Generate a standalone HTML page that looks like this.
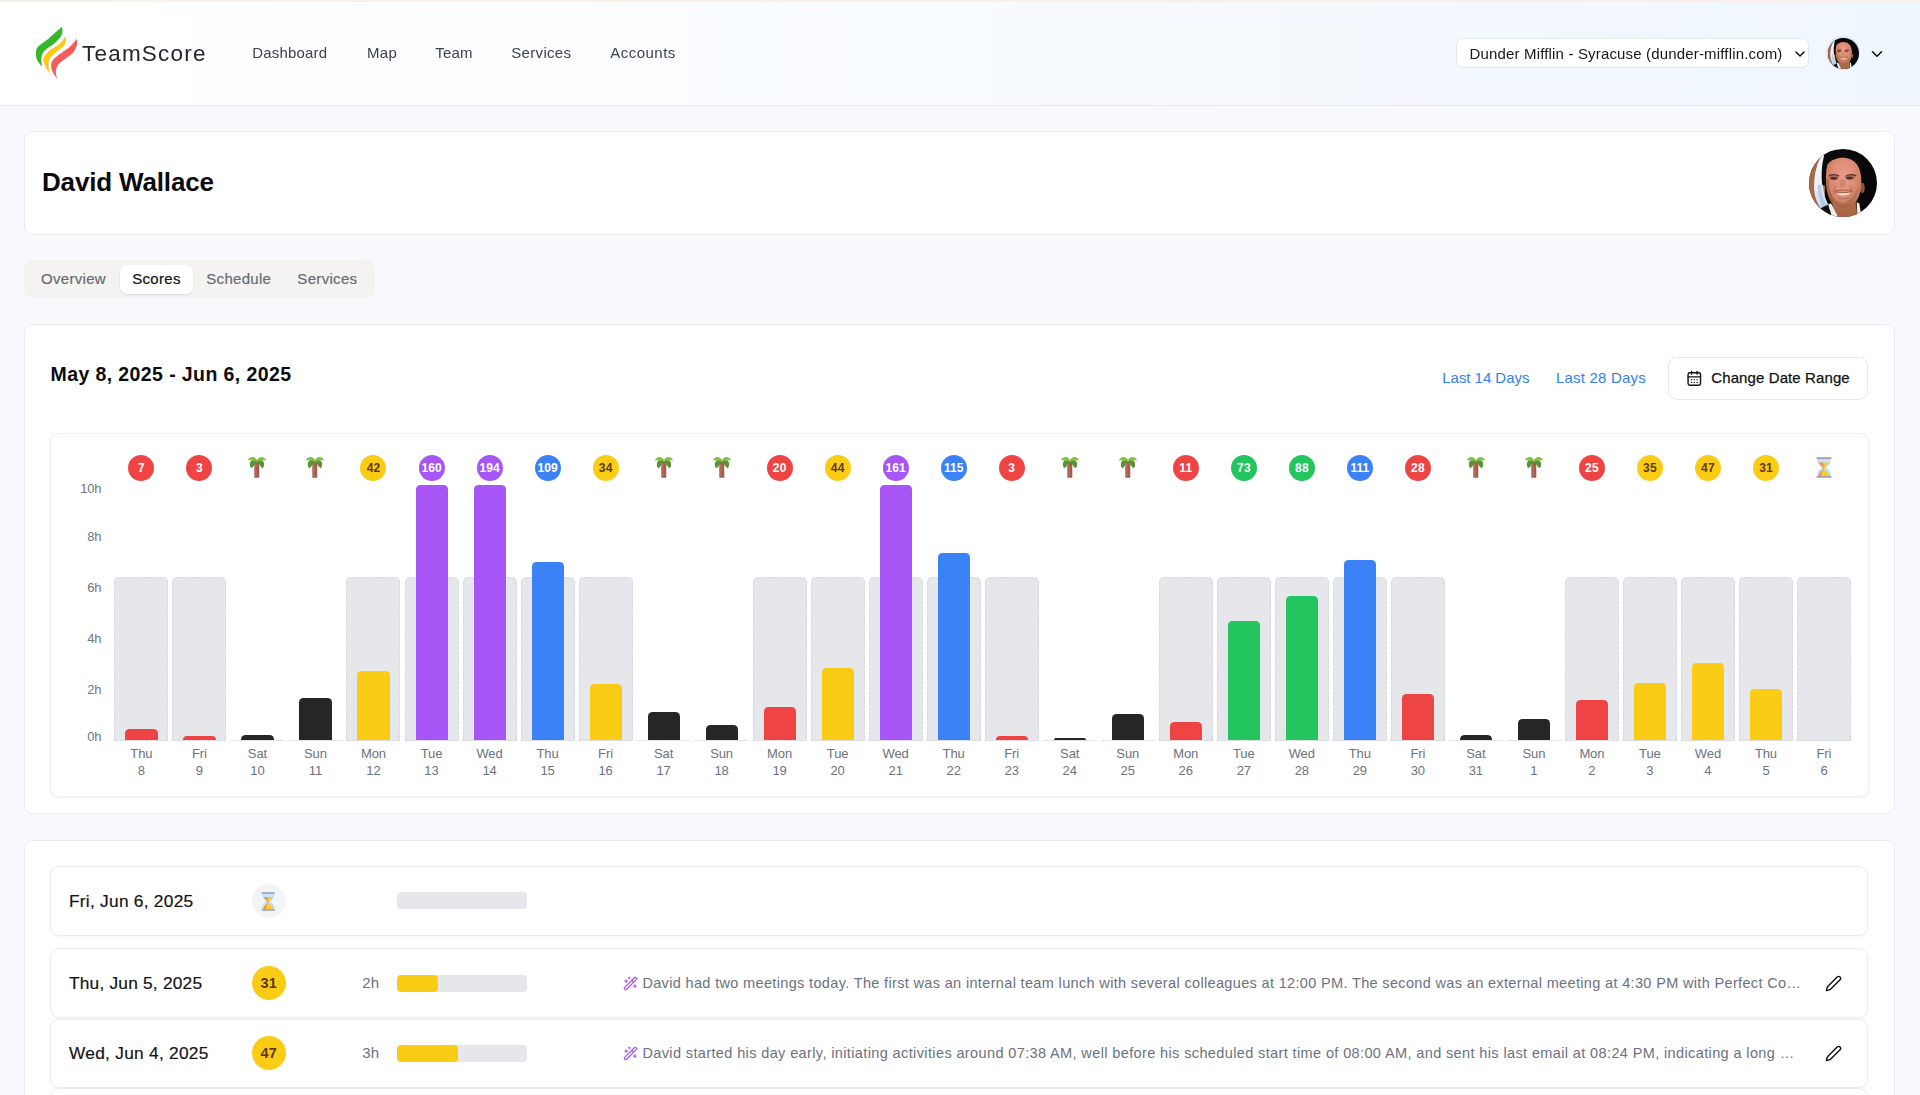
<!DOCTYPE html>
<html><head><meta charset="utf-8"><title>TeamScore</title>
<style>
*{box-sizing:border-box;margin:0;padding:0}
html,body{width:1920px;height:1095px;overflow:hidden}
body{font-family:"Liberation Sans",sans-serif;background:#f7f9fd;position:relative;color:#111}
.abs{position:absolute}
.card{position:absolute;background:#fff;border:1px solid #e9ebef;border-radius:9px}
</style></head><body>
<svg width="0" height="0" style="position:absolute"><defs>
<clipPath id="avc"><circle cx="34" cy="34" r="34"/></clipPath>
<radialGradient id="skin" cx="0.5" cy="0.32" r="0.75"><stop offset="0" stop-color="#ec9d8e"/><stop offset="0.45" stop-color="#dc8a72"/><stop offset="1" stop-color="#b06a48"/></radialGradient>
<linearGradient id="band" x1="0" y1="0" x2="0" y2="1"><stop offset="0" stop-color="#f4f7fc"/><stop offset="0.55" stop-color="#e9eff8"/><stop offset="1" stop-color="#b9cbe4"/></linearGradient>
<g id="avatar"><g clip-path="url(#avc)">
<rect width="68" height="68" fill="#070709"/>
<path d="M0 10H16V62H0Z" fill="#a8694b"/>
<path d="M14 5C8 12 4.8 26 5.1 40C5.6 50 10 59 17 66L22 59C17 53 14.5 45 14 36C13.5 26 13.6 16 15 7Z" fill="url(#band)"/>
<path d="M8.5 36C9 47 12 56 17.5 63L19.5 60C14.5 53 12.5 45 12.3 36Z" fill="#a9c2e2" opacity=".75"/>
<path d="M13.2 36C12.2 26 12.4 12 16.5 4.5C22 0 30 1 35 1.5C49 1.5 57 13 53.5 31L50 24C48 14 42 9.5 33 9C25 9.5 19.5 14 18.8 24C18.5 30 17.5 35 17.3 37Z" fill="#0b0b0e"/>
<ellipse cx="53.3" cy="39" rx="2.4" ry="5" fill="#8f5538"/>
<path d="M18.4 15.5C22 10.8 28 8.7 33.5 8.7C39.5 8.7 45 11 48.3 16C51 20 52.4 26 52.4 32C52.4 40 50.5 48 46.5 53.5L48.5 68H24.5L23.5 55C20 50 17.6 43 17.1 36C16.6 28 17 20.5 18.4 15.5Z" fill="url(#skin)"/>
<path d="M20 47C25 57.5 42.5 58 47.5 50.5L48.5 68H24.5L23.5 55Z" fill="#9c5c38" opacity=".55"/>
<path d="M17.2 30C17 38 19 47 23.5 54L25 50C21 44 19.5 37 19.8 30Z" fill="#8d5034" opacity=".5"/>
<path d="M12 59L19.3 55.5L23 68H9Z" fill="#0f0f13"/>
<path d="M19.3 55.3L22 54.3L29 68H23Z" fill="#eeeef2"/>
<path d="M47.8 53.3L50.3 54.5L52.2 66L49.8 68H48.4Z" fill="#eeeef2"/>
<path d="M19.8 27C22.5 25.2 27.5 25.2 30 27.2" stroke="#5a3324" stroke-width="1.5" fill="none"/>
<path d="M37 27.2C39.5 25.2 44.5 25.2 47.2 27" stroke="#5a3324" stroke-width="1.5" fill="none"/>
<ellipse cx="24.8" cy="28.6" rx="5.2" ry="2.7" fill="#8a5846" opacity=".6"/><ellipse cx="40.8" cy="28.4" rx="5.2" ry="2.7" fill="#8a5846" opacity=".6"/><ellipse cx="24.8" cy="29.2" rx="3.2" ry="1.3" fill="#3f3236"/><ellipse cx="40.6" cy="29" rx="3.2" ry="1.3" fill="#3f3236"/><path d="M19 38C22 46 26 52 33.5 54C41 52 46 46 49.5 37C49 48 44 58 33.5 59C24 58 19.5 48 19 38Z" fill="#9a5f40" opacity=".45"/><path d="M27 36.5C25 39 24.5 42 25.5 45" stroke="#a5634a" stroke-width="1" fill="none" opacity=".7"/><path d="M40.5 36.5C42.5 39 43 42 42 45" stroke="#a5634a" stroke-width="1" fill="none" opacity=".7"/>
<path d="M31 30.5C30.2 35 29.5 37.5 33.5 38.6C37.5 37.5 37 35 36.2 30.5" fill="#c9775f" opacity=".55"/>
<path d="M26 41.2C29 42.6 31.5 40.6 33.6 41C35.8 40.6 38.5 42.4 42.5 40.8" stroke="#9a5a40" stroke-width="1" fill="none" opacity=".8"/>
<path d="M27 42.9C31 44 37.5 44 42.4 42.6C39.8 47.6 30 47.8 27 42.9Z" fill="#f4e4c8"/>
<path d="M26.2 42.8C31 44.2 38 44.2 43.4 42.4" stroke="#8e4f3a" stroke-width=".9" fill="none"/>
<path d="M29 48.6C32 50.4 37 50.4 40.5 48.4" stroke="#a96a4e" stroke-width="1" fill="none" opacity=".7"/>
</g></g></defs></svg>
<div class="abs" style="left:0;top:0;width:1920px;height:106px;will-change:transform">
<div class="abs" style="left:0;top:0;width:1920px;height:106px;background:linear-gradient(90deg,#ffffff 0%,#fbfdff 30%,#f0f6fe 100%);border-bottom:1px solid #e0e9f7"></div>
<div class="abs" style="left:0;top:0;width:1920px;height:2px;background:#fcefe8"></div>
<svg style="position:absolute;left:30px;top:22px" width="60" height="62" viewBox="0 0 60 62">
<path d="M31.70 4.80C29.53 6.73 22.67 13.05 18.70 16.40C14.73 19.75 10.03 22.35 7.90 24.90C5.77 27.45 5.98 29.43 5.90 31.70C5.82 33.97 6.35 36.33 7.40 38.50C8.45 40.67 11.40 43.67 12.20 44.70L12.20 44.70C12.05 43.67 11.25 40.67 11.30 38.50C11.35 36.33 11.55 33.68 12.50 31.70C13.45 29.72 14.93 28.40 17.00 26.60C19.07 24.80 22.63 22.88 24.90 20.90C27.17 18.92 29.33 16.68 30.60 14.70C31.87 12.72 32.32 10.65 32.50 9.00C32.68 7.35 31.83 5.50 31.70 4.80Z" fill="#33b828"/><path d="M35.40 14.60C34.40 15.85 32.18 19.72 29.40 22.10C26.62 24.48 21.28 26.73 18.70 28.90C16.12 31.07 14.75 33.32 13.90 35.10C13.05 36.88 13.18 37.72 13.60 39.60C14.02 41.48 15.32 44.47 16.40 46.40C17.48 48.33 19.48 50.40 20.10 51.20L20.10 51.20C19.92 50.50 19.23 48.75 19.00 47.00C18.77 45.25 18.38 42.68 18.70 40.70C19.02 38.72 19.58 36.88 20.90 35.10C22.22 33.32 24.52 31.80 26.60 30.00C28.68 28.20 31.85 26.10 33.40 24.30C34.95 22.50 35.57 20.82 35.90 19.20C36.23 17.58 35.48 15.37 35.40 14.60Z" fill="#f9c916"/><path d="M46.70 17.00C45.52 18.32 42.48 22.35 39.60 24.90C36.72 27.45 32.23 30.03 29.40 32.30C26.57 34.57 23.97 36.43 22.60 38.50C21.23 40.57 21.10 42.63 21.20 44.70C21.30 46.77 22.12 48.82 23.20 50.90C24.28 52.98 26.95 56.15 27.70 57.20L27.70 57.20C27.42 56.33 26.23 53.70 26.00 52.00C25.77 50.30 25.73 48.78 26.30 47.00C26.87 45.22 27.65 43.18 29.40 41.30C31.15 39.42 34.35 37.68 36.80 35.70C39.25 33.72 42.40 31.58 44.10 29.40C45.80 27.22 46.57 24.67 47.00 22.60C47.43 20.53 46.75 17.93 46.70 17.00Z" fill="#f55c5c"/></svg>
<div style="position:absolute;top:37.60px;height:31px;line-height:31px;font-size:22.5px;color:#24262b;font-weight:400;white-space:nowrap;letter-spacing:1.213px;left:82px;">TeamScore</div>
<div style="position:absolute;top:42.10px;height:21px;line-height:21px;font-size:15px;color:#3b4350;font-weight:400;white-space:nowrap;letter-spacing:0.18px;left:252.2px;">Dashboard</div>
<div style="position:absolute;top:42.10px;height:21px;line-height:21px;font-size:15px;color:#3b4350;font-weight:400;white-space:nowrap;letter-spacing:0.27px;left:367px;">Map</div>
<div style="position:absolute;top:42.10px;height:21px;line-height:21px;font-size:15px;color:#3b4350;font-weight:400;white-space:nowrap;letter-spacing:0.2px;left:435.3px;">Team</div>
<div style="position:absolute;top:42.10px;height:21px;line-height:21px;font-size:15px;color:#3b4350;font-weight:400;white-space:nowrap;letter-spacing:0.31px;left:511.3px;">Services</div>
<div style="position:absolute;top:42.10px;height:21px;line-height:21px;font-size:15px;color:#3b4350;font-weight:400;white-space:nowrap;letter-spacing:0.47px;left:610.3px;">Accounts</div>
<div class="abs" style="left:1456px;top:38px;width:352.6px;height:30px;background:#fff;border:1px solid #e4e7ec;border-radius:7px"></div>
<div style="position:absolute;top:43.00px;height:21px;line-height:21px;font-size:15px;color:#15171a;font-weight:400;white-space:nowrap;letter-spacing:0.165px;left:1469.5px;">Dunder Mifflin - Syracuse (dunder-mifflin.com)</div>
<svg style="position:absolute;left:1791.7px;top:45.6px" width="16" height="16" viewBox="0 0 24 24" fill="none" stroke="#111" stroke-width="2.2" stroke-linecap="round" stroke-linejoin="round"><path d="m6 9 6 6 6-6"/></svg>
<div style="position:absolute;left:1826.00px;top:36.30px;width:34px;height:34px;border-radius:50%;background:#d6e8fb"></div><svg style="position:absolute;left:1827.50px;top:37.80px" width="31" height="31" viewBox="0 0 68 68"><use href="#avatar"/></svg>
<svg style="position:absolute;left:1868.2px;top:44.5px" width="18" height="18" viewBox="0 0 24 24" fill="none" stroke="#111" stroke-width="2.1" stroke-linecap="round" stroke-linejoin="round"><path d="m6 9 6 6 6-6"/></svg>
</div>
<div class="card" style="left:24px;top:131px;width:1871px;height:103.5px"></div>
<div style="position:absolute;top:164.10px;height:36px;line-height:36px;font-size:26px;color:#0c0c0f;font-weight:700;white-space:nowrap;letter-spacing:-0.158px;left:42px;">David Wallace</div>
<svg style="position:absolute;left:1809.00px;top:148.80px" width="68" height="68" viewBox="0 0 68 68"><use href="#avatar"/></svg>
<div class="abs" style="left:24px;top:260px;width:351px;height:38px;background:#f4f3f2;border-radius:9px"></div>
<div class="abs" style="left:119.5px;top:264.5px;width:73.5px;height:29.5px;background:#fff;border-radius:7px;box-shadow:0 1px 2px rgba(0,0,0,.10)"></div>
<div style="position:absolute;top:268.40px;height:21px;line-height:21px;font-size:15px;color:#666b75;font-weight:400;white-space:nowrap;letter-spacing:0.31px;left:41px;-webkit-text-stroke:0.2px #666b75;">Overview</div>
<div style="position:absolute;top:268.40px;height:21px;line-height:21px;font-size:15px;color:#111;font-weight:400;white-space:nowrap;letter-spacing:0.28px;left:132.3px;-webkit-text-stroke:0.2px #111;">Scores</div>
<div style="position:absolute;top:268.40px;height:21px;line-height:21px;font-size:15px;color:#666b75;font-weight:400;white-space:nowrap;letter-spacing:0.3px;left:206.3px;-webkit-text-stroke:0.2px #666b75;">Schedule</div>
<div style="position:absolute;top:268.40px;height:21px;line-height:21px;font-size:15px;color:#666b75;font-weight:400;white-space:nowrap;letter-spacing:0.33px;left:297.3px;-webkit-text-stroke:0.2px #666b75;">Services</div>
<div class="card" style="left:24px;top:324px;width:1871px;height:490px"></div>
<div style="position:absolute;top:360.50px;height:27px;line-height:27px;font-size:19.5px;color:#0c0c0f;font-weight:700;white-space:nowrap;letter-spacing:0.4px;left:50.5px;">May 8, 2025 - Jun 6, 2025</div>
<div style="position:absolute;top:366.90px;height:21px;line-height:21px;font-size:15px;color:#3380f0;font-weight:400;white-space:nowrap;letter-spacing:-0.04px;left:1442.3px;">Last 14 Days</div>
<div style="position:absolute;top:366.90px;height:21px;line-height:21px;font-size:15px;color:#3380f0;font-weight:400;white-space:nowrap;letter-spacing:0.2px;left:1556px;">Last 28 Days</div>
<div class="abs" style="left:1668px;top:356.8px;width:200px;height:43px;background:#fff;border:1px solid #e8e8ec;border-radius:9px"></div>
<svg style="position:absolute;left:1686.3px;top:369.9px" width="16.6" height="16.6" viewBox="0 0 24 24" fill="none" stroke="#111" stroke-width="2" stroke-linecap="round" stroke-linejoin="round"><path d="M8 2v4"/><path d="M16 2v4"/><rect width="18" height="18" x="3" y="4" rx="2.5"/><path d="M3 10h18"/><path d="M8 14h.01"/><path d="M12 14h.01"/><path d="M16 14h.01"/><path d="M8 18h.01"/><path d="M12 18h.01"/><path d="M16 18h.01"/></svg>
<div style="position:absolute;top:367.00px;height:21px;line-height:21px;font-size:15px;color:#111;font-weight:400;white-space:nowrap;letter-spacing:0.1px;left:1711.3px;-webkit-text-stroke:0.25px #111;">Change Date Range</div>
<div class="abs" style="left:50px;top:433px;width:1818.5px;height:363.5px;background:#fff;border:1px solid #eff0f2;border-radius:9px;box-shadow:0 1px 3px rgba(0,0,0,.07)"></div>
<div style="position:absolute;top:480.40px;height:18px;line-height:18px;font-size:13px;color:#6f7682;font-weight:400;white-space:nowrap;letter-spacing:-0.2px;right:1818.6px;">10h</div>
<div style="position:absolute;top:527.80px;height:18px;line-height:18px;font-size:13px;color:#6f7682;font-weight:400;white-space:nowrap;letter-spacing:-0.2px;right:1818.6px;">8h</div>
<div style="position:absolute;top:579.00px;height:18px;line-height:18px;font-size:13px;color:#6f7682;font-weight:400;white-space:nowrap;letter-spacing:-0.2px;right:1818.6px;">6h</div>
<div style="position:absolute;top:629.80px;height:18px;line-height:18px;font-size:13px;color:#6f7682;font-weight:400;white-space:nowrap;letter-spacing:-0.2px;right:1818.6px;">4h</div>
<div style="position:absolute;top:680.90px;height:18px;line-height:18px;font-size:13px;color:#6f7682;font-weight:400;white-space:nowrap;letter-spacing:-0.2px;right:1818.6px;">2h</div>
<div style="position:absolute;top:728.10px;height:18px;line-height:18px;font-size:13px;color:#6f7682;font-weight:400;white-space:nowrap;letter-spacing:-0.2px;right:1818.6px;">0h</div>
<div class="abs" style="left:114.40px;top:576.5px;width:54px;height:164.1px;background:#e5e7eb;border:1px dashed #d6d9de;border-radius:5px 5px 0 0"></div>
<div class="abs" style="left:125.40px;top:728.75px;width:32.3px;height:11.25px;background:#ef4444;border-radius:4.5px 4.5px 0 0"></div>
<div class="abs" style="left:128.40px;top:454.8px;width:26px;height:26px;border-radius:50%;background:#ef4444;color:#fff;font-weight:700;font-size:12px;line-height:26px;text-align:center;letter-spacing:0.3px;text-indent:0.3px">7</div>
<div style="position:absolute;top:744.90px;height:18px;line-height:18px;font-size:13px;color:#6b7280;font-weight:400;white-space:nowrap;letter-spacing:-0.1px;left:-8.599999999999994px;width:300px;text-align:center;">Thu</div>
<div style="position:absolute;top:761.70px;height:18px;line-height:18px;font-size:13px;color:#6b7280;font-weight:400;white-space:nowrap;letter-spacing:-0.1px;left:-8.599999999999994px;width:300px;text-align:center;">8</div>
<div class="abs" style="left:172.42px;top:576.5px;width:54px;height:164.1px;background:#e5e7eb;border:1px dashed #d6d9de;border-radius:5px 5px 0 0"></div>
<div class="abs" style="left:183.42px;top:736.00px;width:32.3px;height:4.00px;background:#ef4444;border-radius:4.0px 4.0px 0 0"></div>
<div class="abs" style="left:186.42px;top:454.8px;width:26px;height:26px;border-radius:50%;background:#ef4444;color:#fff;font-weight:700;font-size:12px;line-height:26px;text-align:center;letter-spacing:0.3px;text-indent:0.3px">3</div>
<div style="position:absolute;top:744.90px;height:18px;line-height:18px;font-size:13px;color:#6b7280;font-weight:400;white-space:nowrap;letter-spacing:-0.1px;left:49.420000000000016px;width:300px;text-align:center;">Fri</div>
<div style="position:absolute;top:761.70px;height:18px;line-height:18px;font-size:13px;color:#6b7280;font-weight:400;white-space:nowrap;letter-spacing:-0.1px;left:49.420000000000016px;width:300px;text-align:center;">9</div>
<div class="abs" style="left:230.64px;top:739.8px;width:53.6px;height:1px;background:#dfe2e7"></div>
<div class="abs" style="left:241.44px;top:735.00px;width:32.3px;height:5.00px;background:#262626;border-radius:4.5px 4.5px 0 0"></div>
<svg style="position:absolute;left:247.44px;top:456.4px" width="20" height="22" viewBox="0 0 20 22">
<rect x="7.3" y="6" width="5" height="15.8" rx=".6" fill="#a25f50"/>
<path d="M8.8 7.5v13" stroke="#b8705c" stroke-width="1.2"/>
<path d="M10 5.2C8.6 3.6 4.8 3.4 3.2 6.2C2.5 8 2.8 10.8 4.2 12.2C5.6 11.4 7.6 9.2 8.2 7.2C9 6.8 9.6 6.2 10 5.2Z" fill="#5c9139"/>
<path d="M10 5.2C11.4 3.6 15.2 3.4 16.8 6.2C17.5 8 17.2 10.8 15.8 12.2C14.4 11.4 12.4 9.2 11.8 7.2C11 6.8 10.4 6.2 10 5.2Z" fill="#5c9139"/>
<path d="M10 4.4C8.8 .6 3.2 -.6 .6 4.6C2.6 4 4.4 4.4 5.6 5C7.2 4.4 8.8 4.8 10 5.6Z" fill="#7fc243"/>
<path d="M10 4.4C11.2 .6 16.8 -.6 19.4 4.6C17.4 4 15.6 4.4 14.4 5C12.8 4.4 11.2 4.8 10 5.6Z" fill="#7fc243"/>
</svg>
<div style="position:absolute;top:744.90px;height:18px;line-height:18px;font-size:13px;color:#6b7280;font-weight:400;white-space:nowrap;letter-spacing:-0.1px;left:107.44px;width:300px;text-align:center;">Sat</div>
<div style="position:absolute;top:761.70px;height:18px;line-height:18px;font-size:13px;color:#6b7280;font-weight:400;white-space:nowrap;letter-spacing:-0.1px;left:107.44px;width:300px;text-align:center;">10</div>
<div class="abs" style="left:288.66px;top:739.8px;width:53.6px;height:1px;background:#dfe2e7"></div>
<div class="abs" style="left:299.46px;top:698.00px;width:32.3px;height:42.00px;background:#262626;border-radius:4.5px 4.5px 0 0"></div>
<svg style="position:absolute;left:305.46px;top:456.4px" width="20" height="22" viewBox="0 0 20 22">
<rect x="7.3" y="6" width="5" height="15.8" rx=".6" fill="#a25f50"/>
<path d="M8.8 7.5v13" stroke="#b8705c" stroke-width="1.2"/>
<path d="M10 5.2C8.6 3.6 4.8 3.4 3.2 6.2C2.5 8 2.8 10.8 4.2 12.2C5.6 11.4 7.6 9.2 8.2 7.2C9 6.8 9.6 6.2 10 5.2Z" fill="#5c9139"/>
<path d="M10 5.2C11.4 3.6 15.2 3.4 16.8 6.2C17.5 8 17.2 10.8 15.8 12.2C14.4 11.4 12.4 9.2 11.8 7.2C11 6.8 10.4 6.2 10 5.2Z" fill="#5c9139"/>
<path d="M10 4.4C8.8 .6 3.2 -.6 .6 4.6C2.6 4 4.4 4.4 5.6 5C7.2 4.4 8.8 4.8 10 5.6Z" fill="#7fc243"/>
<path d="M10 4.4C11.2 .6 16.8 -.6 19.4 4.6C17.4 4 15.6 4.4 14.4 5C12.8 4.4 11.2 4.8 10 5.6Z" fill="#7fc243"/>
</svg>
<div style="position:absolute;top:744.90px;height:18px;line-height:18px;font-size:13px;color:#6b7280;font-weight:400;white-space:nowrap;letter-spacing:-0.1px;left:165.46000000000004px;width:300px;text-align:center;">Sun</div>
<div style="position:absolute;top:761.70px;height:18px;line-height:18px;font-size:13px;color:#6b7280;font-weight:400;white-space:nowrap;letter-spacing:-0.1px;left:165.46000000000004px;width:300px;text-align:center;">11</div>
<div class="abs" style="left:346.48px;top:576.5px;width:54px;height:164.1px;background:#e5e7eb;border:1px dashed #d6d9de;border-radius:5px 5px 0 0"></div>
<div class="abs" style="left:357.48px;top:671.00px;width:32.3px;height:69.00px;background:#facc15;border-radius:4.5px 4.5px 0 0"></div>
<div class="abs" style="left:360.48px;top:454.8px;width:26px;height:26px;border-radius:50%;background:#facc15;color:#5f370e;font-weight:700;font-size:12px;line-height:26px;text-align:center;letter-spacing:0.3px;text-indent:0.3px">42</div>
<div style="position:absolute;top:744.90px;height:18px;line-height:18px;font-size:13px;color:#6b7280;font-weight:400;white-space:nowrap;letter-spacing:-0.1px;left:223.48000000000002px;width:300px;text-align:center;">Mon</div>
<div style="position:absolute;top:761.70px;height:18px;line-height:18px;font-size:13px;color:#6b7280;font-weight:400;white-space:nowrap;letter-spacing:-0.1px;left:223.48000000000002px;width:300px;text-align:center;">12</div>
<div class="abs" style="left:404.50px;top:576.5px;width:54px;height:164.1px;background:#e5e7eb;border:1px dashed #d6d9de;border-radius:5px 5px 0 0"></div>
<div class="abs" style="left:415.50px;top:484.70px;width:32.3px;height:255.30px;background:#a855f7;border-radius:4.5px 4.5px 0 0"></div>
<div class="abs" style="left:418.50px;top:454.8px;width:26px;height:26px;border-radius:50%;background:#a855f7;color:#fff;font-weight:700;font-size:12px;line-height:26px;text-align:center;letter-spacing:0.05px;text-indent:0.05px">160</div>
<div style="position:absolute;top:744.90px;height:18px;line-height:18px;font-size:13px;color:#6b7280;font-weight:400;white-space:nowrap;letter-spacing:-0.1px;left:281.5px;width:300px;text-align:center;">Tue</div>
<div style="position:absolute;top:761.70px;height:18px;line-height:18px;font-size:13px;color:#6b7280;font-weight:400;white-space:nowrap;letter-spacing:-0.1px;left:281.5px;width:300px;text-align:center;">13</div>
<div class="abs" style="left:462.52px;top:576.5px;width:54px;height:164.1px;background:#e5e7eb;border:1px dashed #d6d9de;border-radius:5px 5px 0 0"></div>
<div class="abs" style="left:473.52px;top:484.70px;width:32.3px;height:255.30px;background:#a855f7;border-radius:4.5px 4.5px 0 0"></div>
<div class="abs" style="left:476.52px;top:454.8px;width:26px;height:26px;border-radius:50%;background:#a855f7;color:#fff;font-weight:700;font-size:12px;line-height:26px;text-align:center;letter-spacing:0.05px;text-indent:0.05px">194</div>
<div style="position:absolute;top:744.90px;height:18px;line-height:18px;font-size:13px;color:#6b7280;font-weight:400;white-space:nowrap;letter-spacing:-0.1px;left:339.52px;width:300px;text-align:center;">Wed</div>
<div style="position:absolute;top:761.70px;height:18px;line-height:18px;font-size:13px;color:#6b7280;font-weight:400;white-space:nowrap;letter-spacing:-0.1px;left:339.52px;width:300px;text-align:center;">14</div>
<div class="abs" style="left:520.54px;top:576.5px;width:54px;height:164.1px;background:#e5e7eb;border:1px dashed #d6d9de;border-radius:5px 5px 0 0"></div>
<div class="abs" style="left:531.54px;top:561.60px;width:32.3px;height:178.40px;background:#3b82f6;border-radius:4.5px 4.5px 0 0"></div>
<div class="abs" style="left:534.54px;top:454.8px;width:26px;height:26px;border-radius:50%;background:#3b82f6;color:#fff;font-weight:700;font-size:12px;line-height:26px;text-align:center;letter-spacing:0.05px;text-indent:0.05px">109</div>
<div style="position:absolute;top:744.90px;height:18px;line-height:18px;font-size:13px;color:#6b7280;font-weight:400;white-space:nowrap;letter-spacing:-0.1px;left:397.5400000000001px;width:300px;text-align:center;">Thu</div>
<div style="position:absolute;top:761.70px;height:18px;line-height:18px;font-size:13px;color:#6b7280;font-weight:400;white-space:nowrap;letter-spacing:-0.1px;left:397.5400000000001px;width:300px;text-align:center;">15</div>
<div class="abs" style="left:578.56px;top:576.5px;width:54px;height:164.1px;background:#e5e7eb;border:1px dashed #d6d9de;border-radius:5px 5px 0 0"></div>
<div class="abs" style="left:589.56px;top:684.40px;width:32.3px;height:55.60px;background:#facc15;border-radius:4.5px 4.5px 0 0"></div>
<div class="abs" style="left:592.56px;top:454.8px;width:26px;height:26px;border-radius:50%;background:#facc15;color:#5f370e;font-weight:700;font-size:12px;line-height:26px;text-align:center;letter-spacing:0.3px;text-indent:0.3px">34</div>
<div style="position:absolute;top:744.90px;height:18px;line-height:18px;font-size:13px;color:#6b7280;font-weight:400;white-space:nowrap;letter-spacing:-0.1px;left:455.56000000000006px;width:300px;text-align:center;">Fri</div>
<div style="position:absolute;top:761.70px;height:18px;line-height:18px;font-size:13px;color:#6b7280;font-weight:400;white-space:nowrap;letter-spacing:-0.1px;left:455.56000000000006px;width:300px;text-align:center;">16</div>
<div class="abs" style="left:636.78px;top:739.8px;width:53.6px;height:1px;background:#dfe2e7"></div>
<div class="abs" style="left:647.58px;top:712.20px;width:32.3px;height:27.80px;background:#262626;border-radius:4.5px 4.5px 0 0"></div>
<svg style="position:absolute;left:653.58px;top:456.4px" width="20" height="22" viewBox="0 0 20 22">
<rect x="7.3" y="6" width="5" height="15.8" rx=".6" fill="#a25f50"/>
<path d="M8.8 7.5v13" stroke="#b8705c" stroke-width="1.2"/>
<path d="M10 5.2C8.6 3.6 4.8 3.4 3.2 6.2C2.5 8 2.8 10.8 4.2 12.2C5.6 11.4 7.6 9.2 8.2 7.2C9 6.8 9.6 6.2 10 5.2Z" fill="#5c9139"/>
<path d="M10 5.2C11.4 3.6 15.2 3.4 16.8 6.2C17.5 8 17.2 10.8 15.8 12.2C14.4 11.4 12.4 9.2 11.8 7.2C11 6.8 10.4 6.2 10 5.2Z" fill="#5c9139"/>
<path d="M10 4.4C8.8 .6 3.2 -.6 .6 4.6C2.6 4 4.4 4.4 5.6 5C7.2 4.4 8.8 4.8 10 5.6Z" fill="#7fc243"/>
<path d="M10 4.4C11.2 .6 16.8 -.6 19.4 4.6C17.4 4 15.6 4.4 14.4 5C12.8 4.4 11.2 4.8 10 5.6Z" fill="#7fc243"/>
</svg>
<div style="position:absolute;top:744.90px;height:18px;line-height:18px;font-size:13px;color:#6b7280;font-weight:400;white-space:nowrap;letter-spacing:-0.1px;left:513.58px;width:300px;text-align:center;">Sat</div>
<div style="position:absolute;top:761.70px;height:18px;line-height:18px;font-size:13px;color:#6b7280;font-weight:400;white-space:nowrap;letter-spacing:-0.1px;left:513.58px;width:300px;text-align:center;">17</div>
<div class="abs" style="left:694.80px;top:739.8px;width:53.6px;height:1px;background:#dfe2e7"></div>
<div class="abs" style="left:705.60px;top:724.70px;width:32.3px;height:15.30px;background:#262626;border-radius:4.5px 4.5px 0 0"></div>
<svg style="position:absolute;left:711.60px;top:456.4px" width="20" height="22" viewBox="0 0 20 22">
<rect x="7.3" y="6" width="5" height="15.8" rx=".6" fill="#a25f50"/>
<path d="M8.8 7.5v13" stroke="#b8705c" stroke-width="1.2"/>
<path d="M10 5.2C8.6 3.6 4.8 3.4 3.2 6.2C2.5 8 2.8 10.8 4.2 12.2C5.6 11.4 7.6 9.2 8.2 7.2C9 6.8 9.6 6.2 10 5.2Z" fill="#5c9139"/>
<path d="M10 5.2C11.4 3.6 15.2 3.4 16.8 6.2C17.5 8 17.2 10.8 15.8 12.2C14.4 11.4 12.4 9.2 11.8 7.2C11 6.8 10.4 6.2 10 5.2Z" fill="#5c9139"/>
<path d="M10 4.4C8.8 .6 3.2 -.6 .6 4.6C2.6 4 4.4 4.4 5.6 5C7.2 4.4 8.8 4.8 10 5.6Z" fill="#7fc243"/>
<path d="M10 4.4C11.2 .6 16.8 -.6 19.4 4.6C17.4 4 15.6 4.4 14.4 5C12.8 4.4 11.2 4.8 10 5.6Z" fill="#7fc243"/>
</svg>
<div style="position:absolute;top:744.90px;height:18px;line-height:18px;font-size:13px;color:#6b7280;font-weight:400;white-space:nowrap;letter-spacing:-0.1px;left:571.6px;width:300px;text-align:center;">Sun</div>
<div style="position:absolute;top:761.70px;height:18px;line-height:18px;font-size:13px;color:#6b7280;font-weight:400;white-space:nowrap;letter-spacing:-0.1px;left:571.6px;width:300px;text-align:center;">18</div>
<div class="abs" style="left:752.62px;top:576.5px;width:54px;height:164.1px;background:#e5e7eb;border:1px dashed #d6d9de;border-radius:5px 5px 0 0"></div>
<div class="abs" style="left:763.62px;top:706.90px;width:32.3px;height:33.10px;background:#ef4444;border-radius:4.5px 4.5px 0 0"></div>
<div class="abs" style="left:766.62px;top:454.8px;width:26px;height:26px;border-radius:50%;background:#ef4444;color:#fff;font-weight:700;font-size:12px;line-height:26px;text-align:center;letter-spacing:0.3px;text-indent:0.3px">20</div>
<div style="position:absolute;top:744.90px;height:18px;line-height:18px;font-size:13px;color:#6b7280;font-weight:400;white-space:nowrap;letter-spacing:-0.1px;left:629.62px;width:300px;text-align:center;">Mon</div>
<div style="position:absolute;top:761.70px;height:18px;line-height:18px;font-size:13px;color:#6b7280;font-weight:400;white-space:nowrap;letter-spacing:-0.1px;left:629.62px;width:300px;text-align:center;">19</div>
<div class="abs" style="left:810.64px;top:576.5px;width:54px;height:164.1px;background:#e5e7eb;border:1px dashed #d6d9de;border-radius:5px 5px 0 0"></div>
<div class="abs" style="left:821.64px;top:667.50px;width:32.3px;height:72.50px;background:#facc15;border-radius:4.5px 4.5px 0 0"></div>
<div class="abs" style="left:824.64px;top:454.8px;width:26px;height:26px;border-radius:50%;background:#facc15;color:#5f370e;font-weight:700;font-size:12px;line-height:26px;text-align:center;letter-spacing:0.3px;text-indent:0.3px">44</div>
<div style="position:absolute;top:744.90px;height:18px;line-height:18px;font-size:13px;color:#6b7280;font-weight:400;white-space:nowrap;letter-spacing:-0.1px;left:687.64px;width:300px;text-align:center;">Tue</div>
<div style="position:absolute;top:761.70px;height:18px;line-height:18px;font-size:13px;color:#6b7280;font-weight:400;white-space:nowrap;letter-spacing:-0.1px;left:687.64px;width:300px;text-align:center;">20</div>
<div class="abs" style="left:868.66px;top:576.5px;width:54px;height:164.1px;background:#e5e7eb;border:1px dashed #d6d9de;border-radius:5px 5px 0 0"></div>
<div class="abs" style="left:879.66px;top:484.70px;width:32.3px;height:255.30px;background:#a855f7;border-radius:4.5px 4.5px 0 0"></div>
<div class="abs" style="left:882.66px;top:454.8px;width:26px;height:26px;border-radius:50%;background:#a855f7;color:#fff;font-weight:700;font-size:12px;line-height:26px;text-align:center;letter-spacing:0.05px;text-indent:0.05px">161</div>
<div style="position:absolute;top:744.90px;height:18px;line-height:18px;font-size:13px;color:#6b7280;font-weight:400;white-space:nowrap;letter-spacing:-0.1px;left:745.66px;width:300px;text-align:center;">Wed</div>
<div style="position:absolute;top:761.70px;height:18px;line-height:18px;font-size:13px;color:#6b7280;font-weight:400;white-space:nowrap;letter-spacing:-0.1px;left:745.66px;width:300px;text-align:center;">21</div>
<div class="abs" style="left:926.68px;top:576.5px;width:54px;height:164.1px;background:#e5e7eb;border:1px dashed #d6d9de;border-radius:5px 5px 0 0"></div>
<div class="abs" style="left:937.68px;top:552.50px;width:32.3px;height:187.50px;background:#3b82f6;border-radius:4.5px 4.5px 0 0"></div>
<div class="abs" style="left:940.68px;top:454.8px;width:26px;height:26px;border-radius:50%;background:#3b82f6;color:#fff;font-weight:700;font-size:12px;line-height:26px;text-align:center;letter-spacing:0.05px;text-indent:0.05px">115</div>
<div style="position:absolute;top:744.90px;height:18px;line-height:18px;font-size:13px;color:#6b7280;font-weight:400;white-space:nowrap;letter-spacing:-0.1px;left:803.6800000000001px;width:300px;text-align:center;">Thu</div>
<div style="position:absolute;top:761.70px;height:18px;line-height:18px;font-size:13px;color:#6b7280;font-weight:400;white-space:nowrap;letter-spacing:-0.1px;left:803.6800000000001px;width:300px;text-align:center;">22</div>
<div class="abs" style="left:984.70px;top:576.5px;width:54px;height:164.1px;background:#e5e7eb;border:1px dashed #d6d9de;border-radius:5px 5px 0 0"></div>
<div class="abs" style="left:995.70px;top:735.60px;width:32.3px;height:4.40px;background:#ef4444;border-radius:4.399999999999977px 4.399999999999977px 0 0"></div>
<div class="abs" style="left:998.70px;top:454.8px;width:26px;height:26px;border-radius:50%;background:#ef4444;color:#fff;font-weight:700;font-size:12px;line-height:26px;text-align:center;letter-spacing:0.3px;text-indent:0.3px">3</div>
<div style="position:absolute;top:744.90px;height:18px;line-height:18px;font-size:13px;color:#6b7280;font-weight:400;white-space:nowrap;letter-spacing:-0.1px;left:861.7px;width:300px;text-align:center;">Fri</div>
<div style="position:absolute;top:761.70px;height:18px;line-height:18px;font-size:13px;color:#6b7280;font-weight:400;white-space:nowrap;letter-spacing:-0.1px;left:861.7px;width:300px;text-align:center;">23</div>
<div class="abs" style="left:1042.92px;top:739.8px;width:53.6px;height:1px;background:#dfe2e7"></div>
<div class="abs" style="left:1053.72px;top:737.80px;width:32.3px;height:2.20px;background:#262626;border-radius:2.2000000000000455px 2.2000000000000455px 0 0"></div>
<svg style="position:absolute;left:1059.72px;top:456.4px" width="20" height="22" viewBox="0 0 20 22">
<rect x="7.3" y="6" width="5" height="15.8" rx=".6" fill="#a25f50"/>
<path d="M8.8 7.5v13" stroke="#b8705c" stroke-width="1.2"/>
<path d="M10 5.2C8.6 3.6 4.8 3.4 3.2 6.2C2.5 8 2.8 10.8 4.2 12.2C5.6 11.4 7.6 9.2 8.2 7.2C9 6.8 9.6 6.2 10 5.2Z" fill="#5c9139"/>
<path d="M10 5.2C11.4 3.6 15.2 3.4 16.8 6.2C17.5 8 17.2 10.8 15.8 12.2C14.4 11.4 12.4 9.2 11.8 7.2C11 6.8 10.4 6.2 10 5.2Z" fill="#5c9139"/>
<path d="M10 4.4C8.8 .6 3.2 -.6 .6 4.6C2.6 4 4.4 4.4 5.6 5C7.2 4.4 8.8 4.8 10 5.6Z" fill="#7fc243"/>
<path d="M10 4.4C11.2 .6 16.8 -.6 19.4 4.6C17.4 4 15.6 4.4 14.4 5C12.8 4.4 11.2 4.8 10 5.6Z" fill="#7fc243"/>
</svg>
<div style="position:absolute;top:744.90px;height:18px;line-height:18px;font-size:13px;color:#6b7280;font-weight:400;white-space:nowrap;letter-spacing:-0.1px;left:919.72px;width:300px;text-align:center;">Sat</div>
<div style="position:absolute;top:761.70px;height:18px;line-height:18px;font-size:13px;color:#6b7280;font-weight:400;white-space:nowrap;letter-spacing:-0.1px;left:919.72px;width:300px;text-align:center;">24</div>
<div class="abs" style="left:1100.94px;top:739.8px;width:53.6px;height:1px;background:#dfe2e7"></div>
<div class="abs" style="left:1111.74px;top:714.40px;width:32.3px;height:25.60px;background:#262626;border-radius:4.5px 4.5px 0 0"></div>
<svg style="position:absolute;left:1117.74px;top:456.4px" width="20" height="22" viewBox="0 0 20 22">
<rect x="7.3" y="6" width="5" height="15.8" rx=".6" fill="#a25f50"/>
<path d="M8.8 7.5v13" stroke="#b8705c" stroke-width="1.2"/>
<path d="M10 5.2C8.6 3.6 4.8 3.4 3.2 6.2C2.5 8 2.8 10.8 4.2 12.2C5.6 11.4 7.6 9.2 8.2 7.2C9 6.8 9.6 6.2 10 5.2Z" fill="#5c9139"/>
<path d="M10 5.2C11.4 3.6 15.2 3.4 16.8 6.2C17.5 8 17.2 10.8 15.8 12.2C14.4 11.4 12.4 9.2 11.8 7.2C11 6.8 10.4 6.2 10 5.2Z" fill="#5c9139"/>
<path d="M10 4.4C8.8 .6 3.2 -.6 .6 4.6C2.6 4 4.4 4.4 5.6 5C7.2 4.4 8.8 4.8 10 5.6Z" fill="#7fc243"/>
<path d="M10 4.4C11.2 .6 16.8 -.6 19.4 4.6C17.4 4 15.6 4.4 14.4 5C12.8 4.4 11.2 4.8 10 5.6Z" fill="#7fc243"/>
</svg>
<div style="position:absolute;top:744.90px;height:18px;line-height:18px;font-size:13px;color:#6b7280;font-weight:400;white-space:nowrap;letter-spacing:-0.1px;left:977.74px;width:300px;text-align:center;">Sun</div>
<div style="position:absolute;top:761.70px;height:18px;line-height:18px;font-size:13px;color:#6b7280;font-weight:400;white-space:nowrap;letter-spacing:-0.1px;left:977.74px;width:300px;text-align:center;">25</div>
<div class="abs" style="left:1158.76px;top:576.5px;width:54px;height:164.1px;background:#e5e7eb;border:1px dashed #d6d9de;border-radius:5px 5px 0 0"></div>
<div class="abs" style="left:1169.76px;top:722.20px;width:32.3px;height:17.80px;background:#ef4444;border-radius:4.5px 4.5px 0 0"></div>
<div class="abs" style="left:1172.76px;top:454.8px;width:26px;height:26px;border-radius:50%;background:#ef4444;color:#fff;font-weight:700;font-size:12px;line-height:26px;text-align:center;letter-spacing:0.3px;text-indent:0.3px">11</div>
<div style="position:absolute;top:744.90px;height:18px;line-height:18px;font-size:13px;color:#6b7280;font-weight:400;white-space:nowrap;letter-spacing:-0.1px;left:1035.7600000000002px;width:300px;text-align:center;">Mon</div>
<div style="position:absolute;top:761.70px;height:18px;line-height:18px;font-size:13px;color:#6b7280;font-weight:400;white-space:nowrap;letter-spacing:-0.1px;left:1035.7600000000002px;width:300px;text-align:center;">26</div>
<div class="abs" style="left:1216.78px;top:576.5px;width:54px;height:164.1px;background:#e5e7eb;border:1px dashed #d6d9de;border-radius:5px 5px 0 0"></div>
<div class="abs" style="left:1227.78px;top:621.25px;width:32.3px;height:118.75px;background:#22c55e;border-radius:4.5px 4.5px 0 0"></div>
<div class="abs" style="left:1230.78px;top:454.8px;width:26px;height:26px;border-radius:50%;background:#22c55e;color:#fff;font-weight:700;font-size:12px;line-height:26px;text-align:center;letter-spacing:0.3px;text-indent:0.3px">73</div>
<div style="position:absolute;top:744.90px;height:18px;line-height:18px;font-size:13px;color:#6b7280;font-weight:400;white-space:nowrap;letter-spacing:-0.1px;left:1093.7800000000002px;width:300px;text-align:center;">Tue</div>
<div style="position:absolute;top:761.70px;height:18px;line-height:18px;font-size:13px;color:#6b7280;font-weight:400;white-space:nowrap;letter-spacing:-0.1px;left:1093.7800000000002px;width:300px;text-align:center;">27</div>
<div class="abs" style="left:1274.80px;top:576.5px;width:54px;height:164.1px;background:#e5e7eb;border:1px dashed #d6d9de;border-radius:5px 5px 0 0"></div>
<div class="abs" style="left:1285.80px;top:596.25px;width:32.3px;height:143.75px;background:#22c55e;border-radius:4.5px 4.5px 0 0"></div>
<div class="abs" style="left:1288.80px;top:454.8px;width:26px;height:26px;border-radius:50%;background:#22c55e;color:#fff;font-weight:700;font-size:12px;line-height:26px;text-align:center;letter-spacing:0.3px;text-indent:0.3px">88</div>
<div style="position:absolute;top:744.90px;height:18px;line-height:18px;font-size:13px;color:#6b7280;font-weight:400;white-space:nowrap;letter-spacing:-0.1px;left:1151.8000000000002px;width:300px;text-align:center;">Wed</div>
<div style="position:absolute;top:761.70px;height:18px;line-height:18px;font-size:13px;color:#6b7280;font-weight:400;white-space:nowrap;letter-spacing:-0.1px;left:1151.8000000000002px;width:300px;text-align:center;">28</div>
<div class="abs" style="left:1332.82px;top:576.5px;width:54px;height:164.1px;background:#e5e7eb;border:1px dashed #d6d9de;border-radius:5px 5px 0 0"></div>
<div class="abs" style="left:1343.82px;top:559.70px;width:32.3px;height:180.30px;background:#3b82f6;border-radius:4.5px 4.5px 0 0"></div>
<div class="abs" style="left:1346.82px;top:454.8px;width:26px;height:26px;border-radius:50%;background:#3b82f6;color:#fff;font-weight:700;font-size:12px;line-height:26px;text-align:center;letter-spacing:0.05px;text-indent:0.05px">111</div>
<div style="position:absolute;top:744.90px;height:18px;line-height:18px;font-size:13px;color:#6b7280;font-weight:400;white-space:nowrap;letter-spacing:-0.1px;left:1209.8200000000002px;width:300px;text-align:center;">Thu</div>
<div style="position:absolute;top:761.70px;height:18px;line-height:18px;font-size:13px;color:#6b7280;font-weight:400;white-space:nowrap;letter-spacing:-0.1px;left:1209.8200000000002px;width:300px;text-align:center;">29</div>
<div class="abs" style="left:1390.84px;top:576.5px;width:54px;height:164.1px;background:#e5e7eb;border:1px dashed #d6d9de;border-radius:5px 5px 0 0"></div>
<div class="abs" style="left:1401.84px;top:694.40px;width:32.3px;height:45.60px;background:#ef4444;border-radius:4.5px 4.5px 0 0"></div>
<div class="abs" style="left:1404.84px;top:454.8px;width:26px;height:26px;border-radius:50%;background:#ef4444;color:#fff;font-weight:700;font-size:12px;line-height:26px;text-align:center;letter-spacing:0.3px;text-indent:0.3px">28</div>
<div style="position:absolute;top:744.90px;height:18px;line-height:18px;font-size:13px;color:#6b7280;font-weight:400;white-space:nowrap;letter-spacing:-0.1px;left:1267.8400000000001px;width:300px;text-align:center;">Fri</div>
<div style="position:absolute;top:761.70px;height:18px;line-height:18px;font-size:13px;color:#6b7280;font-weight:400;white-space:nowrap;letter-spacing:-0.1px;left:1267.8400000000001px;width:300px;text-align:center;">30</div>
<div class="abs" style="left:1449.06px;top:739.8px;width:53.6px;height:1px;background:#dfe2e7"></div>
<div class="abs" style="left:1459.86px;top:735.00px;width:32.3px;height:5.00px;background:#262626;border-radius:4.5px 4.5px 0 0"></div>
<svg style="position:absolute;left:1465.86px;top:456.4px" width="20" height="22" viewBox="0 0 20 22">
<rect x="7.3" y="6" width="5" height="15.8" rx=".6" fill="#a25f50"/>
<path d="M8.8 7.5v13" stroke="#b8705c" stroke-width="1.2"/>
<path d="M10 5.2C8.6 3.6 4.8 3.4 3.2 6.2C2.5 8 2.8 10.8 4.2 12.2C5.6 11.4 7.6 9.2 8.2 7.2C9 6.8 9.6 6.2 10 5.2Z" fill="#5c9139"/>
<path d="M10 5.2C11.4 3.6 15.2 3.4 16.8 6.2C17.5 8 17.2 10.8 15.8 12.2C14.4 11.4 12.4 9.2 11.8 7.2C11 6.8 10.4 6.2 10 5.2Z" fill="#5c9139"/>
<path d="M10 4.4C8.8 .6 3.2 -.6 .6 4.6C2.6 4 4.4 4.4 5.6 5C7.2 4.4 8.8 4.8 10 5.6Z" fill="#7fc243"/>
<path d="M10 4.4C11.2 .6 16.8 -.6 19.4 4.6C17.4 4 15.6 4.4 14.4 5C12.8 4.4 11.2 4.8 10 5.6Z" fill="#7fc243"/>
</svg>
<div style="position:absolute;top:744.90px;height:18px;line-height:18px;font-size:13px;color:#6b7280;font-weight:400;white-space:nowrap;letter-spacing:-0.1px;left:1325.8600000000001px;width:300px;text-align:center;">Sat</div>
<div style="position:absolute;top:761.70px;height:18px;line-height:18px;font-size:13px;color:#6b7280;font-weight:400;white-space:nowrap;letter-spacing:-0.1px;left:1325.8600000000001px;width:300px;text-align:center;">31</div>
<div class="abs" style="left:1507.08px;top:739.8px;width:53.6px;height:1px;background:#dfe2e7"></div>
<div class="abs" style="left:1517.88px;top:718.75px;width:32.3px;height:21.25px;background:#262626;border-radius:4.5px 4.5px 0 0"></div>
<svg style="position:absolute;left:1523.88px;top:456.4px" width="20" height="22" viewBox="0 0 20 22">
<rect x="7.3" y="6" width="5" height="15.8" rx=".6" fill="#a25f50"/>
<path d="M8.8 7.5v13" stroke="#b8705c" stroke-width="1.2"/>
<path d="M10 5.2C8.6 3.6 4.8 3.4 3.2 6.2C2.5 8 2.8 10.8 4.2 12.2C5.6 11.4 7.6 9.2 8.2 7.2C9 6.8 9.6 6.2 10 5.2Z" fill="#5c9139"/>
<path d="M10 5.2C11.4 3.6 15.2 3.4 16.8 6.2C17.5 8 17.2 10.8 15.8 12.2C14.4 11.4 12.4 9.2 11.8 7.2C11 6.8 10.4 6.2 10 5.2Z" fill="#5c9139"/>
<path d="M10 4.4C8.8 .6 3.2 -.6 .6 4.6C2.6 4 4.4 4.4 5.6 5C7.2 4.4 8.8 4.8 10 5.6Z" fill="#7fc243"/>
<path d="M10 4.4C11.2 .6 16.8 -.6 19.4 4.6C17.4 4 15.6 4.4 14.4 5C12.8 4.4 11.2 4.8 10 5.6Z" fill="#7fc243"/>
</svg>
<div style="position:absolute;top:744.90px;height:18px;line-height:18px;font-size:13px;color:#6b7280;font-weight:400;white-space:nowrap;letter-spacing:-0.1px;left:1383.88px;width:300px;text-align:center;">Sun</div>
<div style="position:absolute;top:761.70px;height:18px;line-height:18px;font-size:13px;color:#6b7280;font-weight:400;white-space:nowrap;letter-spacing:-0.1px;left:1383.88px;width:300px;text-align:center;">1</div>
<div class="abs" style="left:1564.90px;top:576.5px;width:54px;height:164.1px;background:#e5e7eb;border:1px dashed #d6d9de;border-radius:5px 5px 0 0"></div>
<div class="abs" style="left:1575.90px;top:700.30px;width:32.3px;height:39.70px;background:#ef4444;border-radius:4.5px 4.5px 0 0"></div>
<div class="abs" style="left:1578.90px;top:454.8px;width:26px;height:26px;border-radius:50%;background:#ef4444;color:#fff;font-weight:700;font-size:12px;line-height:26px;text-align:center;letter-spacing:0.3px;text-indent:0.3px">25</div>
<div style="position:absolute;top:744.90px;height:18px;line-height:18px;font-size:13px;color:#6b7280;font-weight:400;white-space:nowrap;letter-spacing:-0.1px;left:1441.9px;width:300px;text-align:center;">Mon</div>
<div style="position:absolute;top:761.70px;height:18px;line-height:18px;font-size:13px;color:#6b7280;font-weight:400;white-space:nowrap;letter-spacing:-0.1px;left:1441.9px;width:300px;text-align:center;">2</div>
<div class="abs" style="left:1622.92px;top:576.5px;width:54px;height:164.1px;background:#e5e7eb;border:1px dashed #d6d9de;border-radius:5px 5px 0 0"></div>
<div class="abs" style="left:1633.92px;top:682.50px;width:32.3px;height:57.50px;background:#facc15;border-radius:4.5px 4.5px 0 0"></div>
<div class="abs" style="left:1636.92px;top:454.8px;width:26px;height:26px;border-radius:50%;background:#facc15;color:#5f370e;font-weight:700;font-size:12px;line-height:26px;text-align:center;letter-spacing:0.3px;text-indent:0.3px">35</div>
<div style="position:absolute;top:744.90px;height:18px;line-height:18px;font-size:13px;color:#6b7280;font-weight:400;white-space:nowrap;letter-spacing:-0.1px;left:1499.92px;width:300px;text-align:center;">Tue</div>
<div style="position:absolute;top:761.70px;height:18px;line-height:18px;font-size:13px;color:#6b7280;font-weight:400;white-space:nowrap;letter-spacing:-0.1px;left:1499.92px;width:300px;text-align:center;">3</div>
<div class="abs" style="left:1680.94px;top:576.5px;width:54px;height:164.1px;background:#e5e7eb;border:1px dashed #d6d9de;border-radius:5px 5px 0 0"></div>
<div class="abs" style="left:1691.94px;top:663.10px;width:32.3px;height:76.90px;background:#facc15;border-radius:4.5px 4.5px 0 0"></div>
<div class="abs" style="left:1694.94px;top:454.8px;width:26px;height:26px;border-radius:50%;background:#facc15;color:#5f370e;font-weight:700;font-size:12px;line-height:26px;text-align:center;letter-spacing:0.3px;text-indent:0.3px">47</div>
<div style="position:absolute;top:744.90px;height:18px;line-height:18px;font-size:13px;color:#6b7280;font-weight:400;white-space:nowrap;letter-spacing:-0.1px;left:1557.9400000000003px;width:300px;text-align:center;">Wed</div>
<div style="position:absolute;top:761.70px;height:18px;line-height:18px;font-size:13px;color:#6b7280;font-weight:400;white-space:nowrap;letter-spacing:-0.1px;left:1557.9400000000003px;width:300px;text-align:center;">4</div>
<div class="abs" style="left:1738.96px;top:576.5px;width:54px;height:164.1px;background:#e5e7eb;border:1px dashed #d6d9de;border-radius:5px 5px 0 0"></div>
<div class="abs" style="left:1749.96px;top:688.75px;width:32.3px;height:51.25px;background:#facc15;border-radius:4.5px 4.5px 0 0"></div>
<div class="abs" style="left:1752.96px;top:454.8px;width:26px;height:26px;border-radius:50%;background:#facc15;color:#5f370e;font-weight:700;font-size:12px;line-height:26px;text-align:center;letter-spacing:0.3px;text-indent:0.3px">31</div>
<div style="position:absolute;top:744.90px;height:18px;line-height:18px;font-size:13px;color:#6b7280;font-weight:400;white-space:nowrap;letter-spacing:-0.1px;left:1615.9600000000003px;width:300px;text-align:center;">Thu</div>
<div style="position:absolute;top:761.70px;height:18px;line-height:18px;font-size:13px;color:#6b7280;font-weight:400;white-space:nowrap;letter-spacing:-0.1px;left:1615.9600000000003px;width:300px;text-align:center;">5</div>
<div class="abs" style="left:1796.98px;top:576.5px;width:54px;height:164.1px;background:#e5e7eb;border:1px dashed #d6d9de;border-radius:5px 5px 0 0"></div>
<svg style="position:absolute;left:1816.28px;top:457.00px" width="16.00" height="21" viewBox="0 0 16 21">
<path d="M1.6 1.4H14.4C14.6 5.6 12.6 7.8 9.4 10.5C12.6 13.2 14.6 15.4 14.4 19.6H1.6C1.4 15.4 3.4 13.2 6.6 10.5C3.4 7.8 1.4 5.6 1.6 1.4Z" fill="#c7e2fb" stroke="#a9d0f5" stroke-width=".8"/>
<path d="M3 5.6H13C12 7.6 10.4 8.8 8.8 10.2V13C11 13.6 13 15.6 13.2 19H2.8C3 15.6 5 13.6 7.2 13V10.2C5.6 8.8 4 7.6 3 5.6Z" fill="#f7cb3c"/>
<path d="M3 5.6H7L7.8 10.4V13.2C6.4 13.8 5.6 15.4 5.6 19H2.8C3 15.6 5 13.6 7.2 13V10.2C5.6 8.8 4 7.6 3 5.6Z" fill="#e58a58" opacity=".85"/>
<rect x=".6" y=".3" width="14.8" height="1.6" rx=".5" fill="#9aa1ab"/><rect x=".6" y="19.1" width="14.8" height="1.6" rx=".5" fill="#9aa1ab"/>
</svg>
<div style="position:absolute;top:744.90px;height:18px;line-height:18px;font-size:13px;color:#6b7280;font-weight:400;white-space:nowrap;letter-spacing:-0.1px;left:1673.9800000000002px;width:300px;text-align:center;">Fri</div>
<div style="position:absolute;top:761.70px;height:18px;line-height:18px;font-size:13px;color:#6b7280;font-weight:400;white-space:nowrap;letter-spacing:-0.1px;left:1673.9800000000002px;width:300px;text-align:center;">6</div>
<div class="card" style="left:24px;top:839.5px;width:1871px;height:400px"></div>
<div class="abs" style="left:50px;top:866px;width:1818px;height:69.6px;background:#fff;border:1px solid #e9ebee;border-radius:9px;box-shadow:0 1px 2px rgba(0,0,0,.04)"></div>
<div style="position:absolute;top:888.50px;height:24px;line-height:24px;font-size:17.3px;color:#141417;font-weight:400;white-space:nowrap;letter-spacing:0.27px;left:69px;-webkit-text-stroke:0.2px #141417;">Fri, Jun 6, 2025</div>
<div class="abs" style="left:251.7px;top:883.70px;width:34px;height:34px;border-radius:50%;background:#f3f4f6"></div>
<svg style="position:absolute;left:261.46px;top:891.50px" width="14.48" height="19" viewBox="0 0 16 21">
<path d="M1.6 1.4H14.4C14.6 5.6 12.6 7.8 9.4 10.5C12.6 13.2 14.6 15.4 14.4 19.6H1.6C1.4 15.4 3.4 13.2 6.6 10.5C3.4 7.8 1.4 5.6 1.6 1.4Z" fill="#c7e2fb" stroke="#a9d0f5" stroke-width=".8"/>
<path d="M3 5.6H13C12 7.6 10.4 8.8 8.8 10.2V13C11 13.6 13 15.6 13.2 19H2.8C3 15.6 5 13.6 7.2 13V10.2C5.6 8.8 4 7.6 3 5.6Z" fill="#f7cb3c"/>
<path d="M3 5.6H7L7.8 10.4V13.2C6.4 13.8 5.6 15.4 5.6 19H2.8C3 15.6 5 13.6 7.2 13V10.2C5.6 8.8 4 7.6 3 5.6Z" fill="#e58a58" opacity=".85"/>
<rect x=".6" y=".3" width="14.8" height="1.6" rx=".5" fill="#9aa1ab"/><rect x=".6" y="19.1" width="14.8" height="1.6" rx=".5" fill="#9aa1ab"/>
</svg>
<div class="abs" style="left:396.7px;top:892.30px;width:130.8px;height:17px;border-radius:4px;background:#e5e7eb;overflow:hidden"><div style="width:0px;height:100%;background:#facc15;border-radius:4px"></div></div>
<div class="abs" style="left:50px;top:948.3px;width:1818px;height:69.6px;background:#fff;border:1px solid #e9ebee;border-radius:9px;box-shadow:0 1px 2px rgba(0,0,0,.04)"></div>
<div style="position:absolute;top:970.80px;height:24px;line-height:24px;font-size:17.3px;color:#141417;font-weight:400;white-space:nowrap;letter-spacing:0.22000000000000003px;left:69px;-webkit-text-stroke:0.2px #141417;">Thu, Jun 5, 2025</div>
<div class="abs" style="left:251.7px;top:966.00px;width:34px;height:34px;border-radius:50%;background:#facc15;color:#5f370e;font-weight:700;font-size:14.5px;line-height:34px;text-align:center">31</div>
<div style="position:absolute;top:971.80px;height:21px;line-height:21px;font-size:15px;color:#6b7280;font-weight:400;white-space:nowrap;letter-spacing:0.3px;right:1540.5px;">2h</div>
<div class="abs" style="left:396.7px;top:974.60px;width:130.8px;height:17px;border-radius:4px;background:#e5e7eb;overflow:hidden"><div style="width:41px;height:100%;background:#facc15;border-radius:4px"></div></div>
<svg style="position:absolute;left:622.6px;top:976.2px" width="15" height="15" viewBox="0 0 24 24" fill="none" stroke="#a855f7" stroke-width="2" stroke-linecap="round" stroke-linejoin="round"><path d="m21.64 3.64-1.28-1.28a1.21 1.21 0 0 0-1.72 0L2.36 18.64a1.21 1.21 0 0 0 0 1.72l1.28 1.28a1.2 1.2 0 0 0 1.72 0L21.64 5.36a1.2 1.2 0 0 0 0-1.72"/><path d="m14 7 3 3"/><path d="M5 6v4"/><path d="M19 14v4"/><path d="M10 2v2"/><path d="M7 8H3"/><path d="M21 16h-4"/><path d="M11 3H9"/></svg>
<div style="position:absolute;top:973.00px;height:20px;line-height:20px;font-size:14.5px;color:#6b7280;font-weight:400;white-space:nowrap;letter-spacing:0.344px;left:642.4px;">David had two meetings today. The first was an internal team lunch with several colleagues at 12:00 PM. The second was an external meeting at 4:30 PM with Perfect Co…</div>
<svg style="position:absolute;left:1824.9px;top:974.6px" width="17" height="17" viewBox="0 0 24 24" fill="none" stroke="#111" stroke-width="2" stroke-linecap="round" stroke-linejoin="round"><path d="M21.174 6.812a1 1 0 0 0-3.986-3.987L3.842 16.174a2 2 0 0 0-.5.83l-1.321 4.352a.5.5 0 0 0 .623.622l4.353-1.32a2 2 0 0 0 .83-.497z"/></svg>
<div class="abs" style="left:50px;top:1018.6px;width:1818px;height:69px;background:#fff;border:1px solid #e9ebee;border-radius:9px;box-shadow:0 1px 2px rgba(0,0,0,.04)"></div>
<div style="position:absolute;top:1040.80px;height:24px;line-height:24px;font-size:17.3px;color:#141417;font-weight:400;white-space:nowrap;letter-spacing:0.28px;left:69px;-webkit-text-stroke:0.2px #141417;">Wed, Jun 4, 2025</div>
<div class="abs" style="left:251.7px;top:1036.00px;width:34px;height:34px;border-radius:50%;background:#facc15;color:#5f370e;font-weight:700;font-size:14.5px;line-height:34px;text-align:center">47</div>
<div style="position:absolute;top:1041.80px;height:21px;line-height:21px;font-size:15px;color:#6b7280;font-weight:400;white-space:nowrap;letter-spacing:0.3px;right:1540.5px;">3h</div>
<div class="abs" style="left:396.7px;top:1044.60px;width:130.8px;height:17px;border-radius:4px;background:#e5e7eb;overflow:hidden"><div style="width:61.6px;height:100%;background:#facc15;border-radius:4px"></div></div>
<svg style="position:absolute;left:622.6px;top:1046.2px" width="15" height="15" viewBox="0 0 24 24" fill="none" stroke="#a855f7" stroke-width="2" stroke-linecap="round" stroke-linejoin="round"><path d="m21.64 3.64-1.28-1.28a1.21 1.21 0 0 0-1.72 0L2.36 18.64a1.21 1.21 0 0 0 0 1.72l1.28 1.28a1.2 1.2 0 0 0 1.72 0L21.64 5.36a1.2 1.2 0 0 0 0-1.72"/><path d="m14 7 3 3"/><path d="M5 6v4"/><path d="M19 14v4"/><path d="M10 2v2"/><path d="M7 8H3"/><path d="M21 16h-4"/><path d="M11 3H9"/></svg>
<div style="position:absolute;top:1043.00px;height:20px;line-height:20px;font-size:14.5px;color:#6b7280;font-weight:400;white-space:nowrap;letter-spacing:0.379px;left:642.4px;">David started his day early, initiating activities around 07:38 AM, well before his scheduled start time of 08:00 AM, and sent his last email at 08:24 PM, indicating a long …</div>
<svg style="position:absolute;left:1824.9px;top:1044.6px" width="17" height="17" viewBox="0 0 24 24" fill="none" stroke="#111" stroke-width="2" stroke-linecap="round" stroke-linejoin="round"><path d="M21.174 6.812a1 1 0 0 0-3.986-3.987L3.842 16.174a2 2 0 0 0-.5.83l-1.321 4.352a.5.5 0 0 0 .623.622l4.353-1.32a2 2 0 0 0 .83-.497z"/></svg>
<div class="abs" style="left:50px;top:1088.3px;width:1818px;height:69px;background:#fff;border:1px solid #e9ebee;border-radius:9px;box-shadow:0 1px 2px rgba(0,0,0,.04)"></div>
</body></html>
